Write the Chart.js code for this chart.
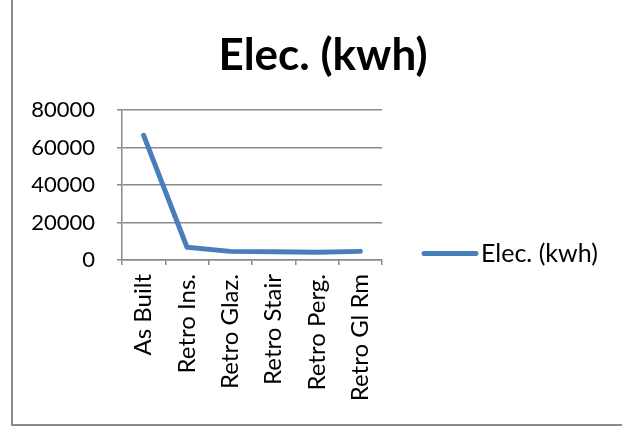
<!DOCTYPE html>
<html>
<head>
<meta charset="utf-8">
<script src="https://cdn.jsdelivr.net/npm/chart.js@4"></script>
<style>
  html, body { margin: 0; padding: 0; background: #fff; overflow: hidden; }
  #wrap { position: relative; width: 622px; height: 430px; }
  #frame {
    position: absolute; left: 11px; top: -20px; width: 1000px; height: 446px;
    border: 2px solid #8a8a8a; box-sizing: border-box; pointer-events: none;
  }
  canvas { position: absolute; left: 0; top: 0; }
</style>
</head>
<body>
<div id="wrap">
  <div id="frame"></div>
  <canvas id="c" width="622" height="430"></canvas>
</div>
<script>
// Electricity use per building variant
const categories = ["As Built", "Retro Ins.", "Retro Glaz.", "Retro Stair", "Retro Perg.", "Retro Gl Rm"];
const elecKwh = [66500, 6800, 4600, 4400, 4100, 4600];
const seriesName = "Elec. (kwh)";
const chartTitle = "Elec. (kwh)";
const yTicks = [0, 20000, 40000, 60000, 80000];

const FONT = "Lato, 'Open Sans', sans-serif";
const LINE = "#4a7ebb";
const GRID = "#8a8a8a";

// Title and legend drawn at fixed spots beside the plot
const decor = {
  id: "decor",
  afterDraw(chart) {
    const ctx = chart.ctx;
    ctx.save();
    ctx.fillStyle = "#000";
    ctx.font = "bold 44px " + FONT;
    ctx.textAlign = "center";
    ctx.textBaseline = "middle";
    ctx.fillText(chartTitle, 323, 56);

    const ds = chart.data.datasets[0];
    ctx.strokeStyle = ds.borderColor;
    ctx.lineWidth = 5;
    ctx.lineCap = "round";
    ctx.beginPath();
    ctx.moveTo(424, 253.5);
    ctx.lineTo(476, 253.5);
    ctx.stroke();
    ctx.font = "25px " + FONT;
    ctx.textAlign = "left";
    ctx.fillText(ds.label, 481, 254);
    ctx.restore();
  }
};

new Chart(document.getElementById("c"), {
  type: "line",
  data: {
    labels: categories,
    datasets: [{
      label: seriesName,
      data: elecKwh,
      borderColor: LINE,
      backgroundColor: LINE,
      borderWidth: 5,
      borderCapStyle: "round",
      borderJoinStyle: "round",
      pointRadius: 0,
      tension: 0,
      fill: false
    }]
  },
  plugins: [decor],
  options: {
    responsive: false,
    animation: false,
    devicePixelRatio: 1,
    layout: { padding: { left: 0, top: 110, right: 240, bottom: 0 } },
    plugins: {
      legend: { display: false },
      title: { display: false },
      tooltip: { enabled: false }
    },
    scales: {
      x: {
        type: "category",
        offset: true,
        grid: {
          offset: true,
          drawOnChartArea: false,
          drawTicks: true,
          tickLength: 5,
          color: GRID,
          lineWidth: 1.5
        },
        border: { display: true, color: GRID, width: 1.5 },
        ticks: {
          minRotation: 90,
          maxRotation: 90,
          autoSkip: false,
          padding: 9,
          color: "#000",
          font: { family: FONT, size: 24 }
        },
        afterFit(scale) { scale.height = 170; }
      },
      y: {
        min: 0,
        max: 80000,
        afterBuildTicks(scale) { scale.ticks = yTicks.map(v => ({ value: v })); },
        grid: {
          drawTicks: true,
          tickLength: 5,
          color: GRID,
          lineWidth: 1.5
        },
        border: { display: true, color: GRID, width: 1.5 },
        ticks: {
          padding: 22,
          color: "#000",
          font: { family: FONT, size: 22 },
          callback: (v) => String(v)
        },
        afterFit(scale) { scale.width = 122; }
      }
    }
  }
});
</script>
</body>
</html>
